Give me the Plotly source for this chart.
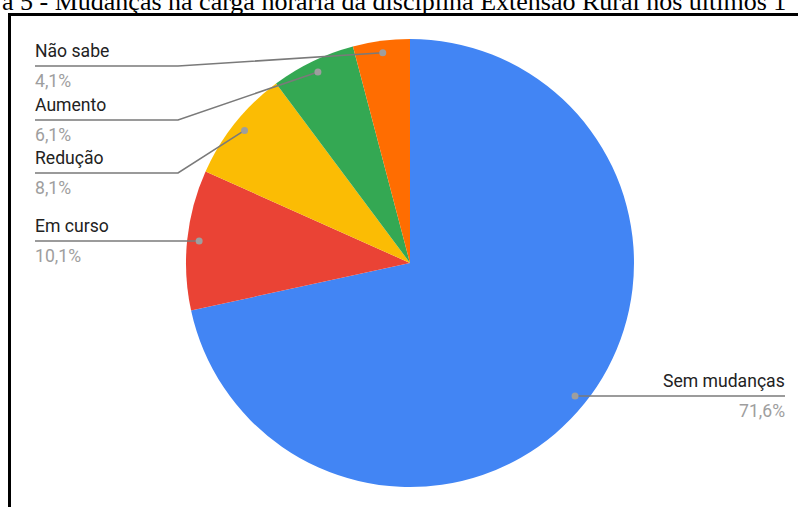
import math
import plotly.graph_objects as go

categories = ["Sem mudanças", "Em curso", "Redução", "Aumento", "Não sabe"]
values = [71.6, 10.1, 8.1, 6.1, 4.1]
pct_labels = ["71,6%", "10,1%", "8,1%", "6,1%", "4,1%"]
colors = ["#4285F4", "#EA4335", "#FBBC04", "#34A853", "#FF6D01"]
title_text = "a 5 - Mudanças na carga horária da disciplina Extensão Rural nos últimos 1"

W, H = 798, 507
CX, CY, R = 410, 263, 224

def px(x):
    return x / W

def py(y):
    return 1 - y / H

fig = go.Figure(go.Pie(
    labels=categories,
    values=values,
    marker=dict(colors=colors, line=dict(width=0)),
    sort=False,
    direction="clockwise",
    rotation=0,
    textinfo="none",
    showlegend=False,
    domain=dict(x=[px(CX - R), px(CX + R)], y=[py(CY + R), py(CY - R)]),
))

label_line_y = {"Sem mudanças": 396, "Em curso": 241, "Redução": 173, "Aumento": 120, "Não sabe": 66}
LEFT_X, ELBOW_X, RIGHT_X = 35, 178, 785
DOT_R = R - 12
FS = 17.6

shapes = []
annotations = []
total = sum(values)
cum = 0
dot_x, dot_y = [], []
for cat, v, pl in zip(categories, values, pct_labels):
    mid = (cum + v / 2) / total * 2 * math.pi
    cum += v
    dx = CX + DOT_R * math.sin(mid)
    dy = CY - DOT_R * math.cos(mid)
    ly = label_line_y[cat]
    if dx > CX:
        path = f"M {px(dx)} {py(dy)} L {px(RIGHT_X)} {py(ly)}"
        tx, anchor, xs = RIGHT_X, "right", 2
    else:
        if abs(dy - ly) < 3:
            path = f"M {px(LEFT_X)} {py(ly)} L {px(dx)} {py(dy)}"
        else:
            path = f"M {px(LEFT_X)} {py(ly)} L {px(ELBOW_X)} {py(ly)} L {px(dx)} {py(dy)}"
        tx, anchor, xs = LEFT_X, "left", -2
    shapes.append(dict(type="path", path=path, xref="paper", yref="paper",
                       line=dict(color="#7a7a7a", width=1.6)))
    dot_x.append(px(dx))
    dot_y.append(py(dy))
    annotations.append(dict(x=px(tx), y=py(ly - 15), xref="paper", yref="paper",
                            text=cat, showarrow=False, xanchor=anchor, yanchor="middle", xshift=xs,
                            font=dict(family="Roboto", size=FS, color="#222222")))
    annotations.append(dict(x=px(tx), y=py(ly + 15), xref="paper", yref="paper",
                            text=pl, showarrow=False, xanchor=anchor, yanchor="middle", xshift=xs,
                            font=dict(family="Roboto", size=FS, color="#9e9e9e")))

for x0, y0 in zip(dot_x, dot_y):
    shapes.append(dict(type="circle", xref="paper", yref="paper",
                       x0=x0 - 3.5 / W, x1=x0 + 3.5 / W, y0=y0 - 3.5 / H, y1=y0 + 3.5 / H,
                       fillcolor="#9e9e9e", line=dict(width=0)))

# frame lines
shapes.append(dict(type="line", xref="paper", yref="paper", x0=px(8), x1=1, y0=py(14.5), y1=py(14.5),
                   line=dict(color="black", width=3)))
shapes.append(dict(type="line", xref="paper", yref="paper", x0=px(9.5), x1=px(9.5), y0=py(13), y1=0,
                   line=dict(color="black", width=3)))

annotations.append(dict(x=0, y=py(9), xref="paper", yref="paper", text=title_text,
                        showarrow=False, xanchor="left", yanchor="bottom", yshift=-9,
                        font=dict(family="Liberation Serif", size=26, color="black")))

fig.update_layout(width=W, height=H, margin=dict(l=0, r=0, t=0, b=0),
                  paper_bgcolor="white", plot_bgcolor="white",
                  shapes=shapes, annotations=annotations)

fig.write_html("out.html", config={"displayModeBar": False},
               post_script="document.body.style.margin='0';document.body.style.overflow='hidden';")
